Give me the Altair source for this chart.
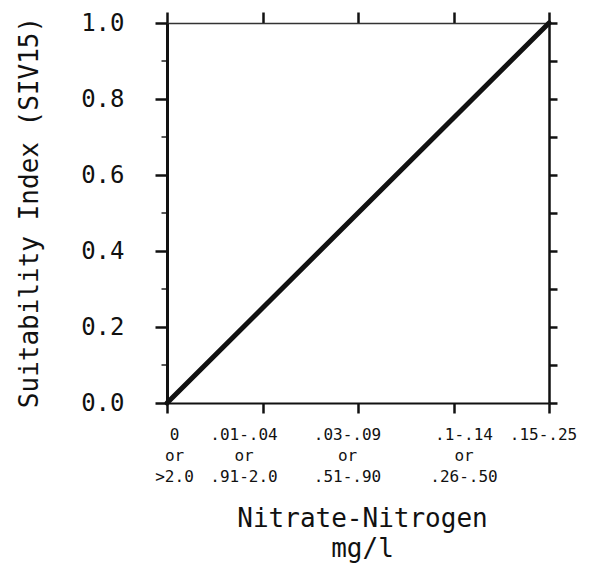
import altair as alt
import pandas as pd

# ---- data ----
x_pos = [0, 1, 2, 3, 4]
si_values = [0.0, 0.25, 0.5, 0.75, 1.0]
label_line1 = ["0", ".01-.04", ".03-.09", ".1-.14", ".15-.25"]
label_line2 = ["or", "or", "or", "or", ""]
label_line3 = [">2.0", ".91-2.0", ".51-.90", ".26-.50", ""]
y_major = [0.0, 0.2, 0.4, 0.6, 0.8, 1.0]
y_minor = [0.1, 0.3, 0.5, 0.7, 0.9]
y_all = [0.0, 0.1, 0.2, 0.3, 0.4, 0.5, 0.6, 0.7, 0.8, 0.9, 1.0]

df = pd.DataFrame({"x": x_pos, "si": si_values})
df_minor = pd.DataFrame({"x": [0] * len(y_minor), "si": y_minor})

FONT = "DejaVu Sans Mono"
INK = "#111111"

# multi-line tick labels as arrays
def js_list(lines):
    return "[" + ",".join("'" + l.replace("'", "\\'") + "'" for l in lines) + "]"

groups = []
for a, b, c in zip(label_line1, label_line2, label_line3):
    groups.append(js_list([s for s in (a, b, c) if s != ""]))
label_expr = "[" + ",".join(groups) + "][datum.value]"
label_shift_expr = "[7,-19,-11,10,-6][datum.value]"

xscale = alt.Scale(domain=[0, 4], nice=False, zero=False)
yscale = alt.Scale(domain=[0, 1], nice=False)

line = alt.Chart(df).mark_line(color=INK, strokeWidth=5, strokeCap="round").encode(
    x=alt.X(
        "x:Q",
        scale=xscale,
        axis=alt.Axis(
            values=x_pos,
            labelExpr=label_expr,
            labelFont=FONT,
            labelFontSize=16,
            labelLineHeight=21,
            labelBaseline="top",
            labelAlign="center",
            labelPadding=13,
            labelOffset=alt.ExprRef(expr=label_shift_expr),
            labelFlush=False,
            labelOverlap=False,
            labelBound=False,
            labelColor=INK,
            tickSize=10,
            tickWidth=2.5,
            tickColor=INK,
            domainColor=INK,
            domainWidth=2,
            grid=False,
            title=["Nitrate-Nitrogen", "mg/l\u00a0\u00a0"],
            titleFont=FONT,
            titleFontSize=26,
            titleFontWeight="normal",
            titleColor=INK,
            titleX=195,
            titleY=123,
            titleAlign="center",
            titleBaseline="alphabetic",
            titleLineHeight=30,
        ),
    ),
    y=alt.Y(
        "si:Q",
        scale=yscale,
        axis=alt.Axis(
            values=y_major,
            format=".1f",
            labelFont=FONT,
            labelFontSize=24,
            labelPadding=31,
            labelColor=INK,
            labelFlush=False,
            labelOverlap=False,
            tickSize=12,
            tickWidth=2.5,
            tickColor=INK,
            domainColor=INK,
            domainWidth=3,
            grid=False,
            title="Suitability Index (SIV15)",
            titleFont=FONT,
            titleFontSize=26,
            titleFontWeight="normal",
            titleColor=INK,
            titleAngle=270,
            titleX=-130,
            titleY=189,
            titleAlign="center",
            titleBaseline="alphabetic",
        ),
    ),
)

frame = alt.Chart(df).mark_point(opacity=0).encode(
    x=alt.X(
        "x:Q",
        scale=xscale,
        axis=alt.Axis(
            orient="top",
            values=x_pos,
            labels=False,
            tickSize=11,
            tickWidth=2.5,
            tickColor=INK,
            domainColor="#333333",
            domainWidth=1.5,
            grid=False,
            title=None,
        ),
    ),
    y=alt.Y(
        "si:Q",
        scale=yscale,
        axis=alt.Axis(
            orient="right",
            values=y_all,
            labels=False,
            tickSize=8,
            tickWidth=2.5,
            tickColor=INK,
            domainColor=INK,
            domainWidth=2.5,
            grid=False,
            title=None,
        ),
    ),
)

minor = alt.Chart(df_minor).mark_tick(
    orient="horizontal", size=7, thickness=2, color=INK, xOffset=-2
).encode(
    x=alt.X("x:Q", scale=xscale, axis=None),
    y=alt.Y("si:Q", scale=yscale, axis=None),
)

chart = (
    alt.layer(line, frame, minor)
    .resolve_axis(x="independent", y="independent")
    .properties(
        width=382,
        height=380,
        autosize=alt.AutoSizeParams(type="none"),
        padding={"left": 159, "top": 15, "right": 30, "bottom": 162},
        background="white",
    )
    .configure_view(stroke=None)
)

chart.save("out.html", embed_options={"renderer": "svg", "actions": False})
